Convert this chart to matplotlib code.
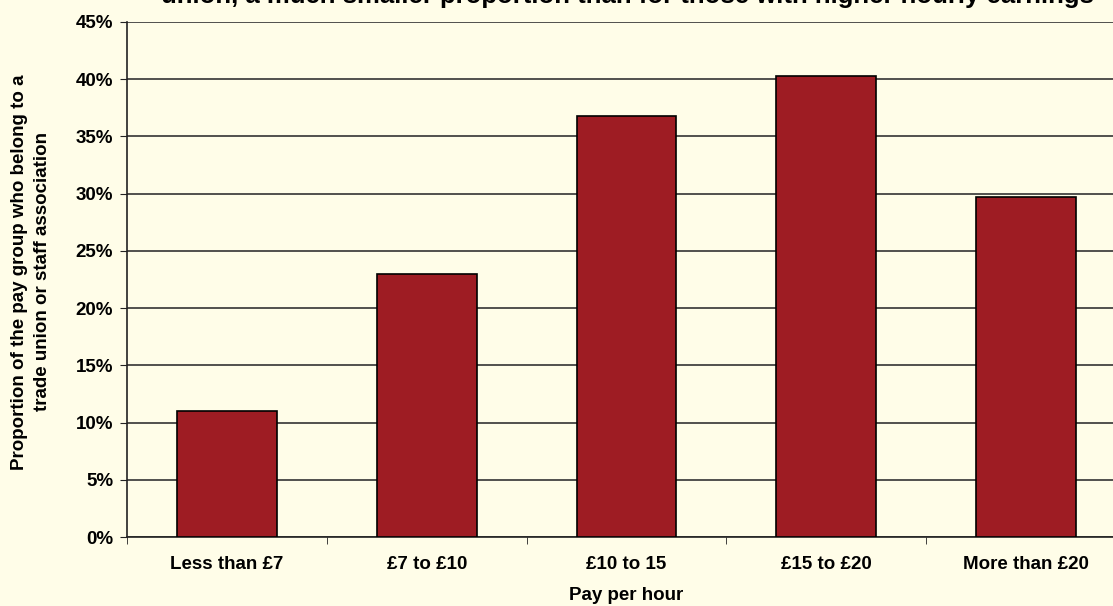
import matplotlib
matplotlib.use("Agg")
import matplotlib.pyplot as plt
from matplotlib.ticker import FixedLocator, PercentFormatter

categories = ["Less than £7", "£7 to £10", "£10 to 15", "£15 to £20", "More than £20"]
values = [11.0, 23.0, 36.8, 40.3, 29.7]
yticks = [0, 5, 10, 15, 20, 25, 30, 35, 40, 45]

bg = "#FFFDE8"
bar_color = "#9E1C23"

plt.rcParams["font.family"] = ["Liberation Sans", "DejaVu Sans"]
plt.rcParams["font.weight"] = "bold"

fs = 13.5

fig = plt.figure(figsize=(11.13, 6.06), dpi=100, facecolor=bg)
ax = fig.add_axes([127/1113, 69/606, 999/1113, 515/606], facecolor=bg)

x = list(range(len(categories)))
ax.bar(x, values, width=0.5, color=bar_color, edgecolor="black", linewidth=1.2, zorder=3)

ax.set_xlim(-0.5, len(categories) - 0.5)
ax.set_ylim(0, 45)
ax.set_yticks(yticks)
ax.yaxis.set_major_formatter(PercentFormatter(decimals=0))
ax.grid(axis="y", color="#333333", linewidth=1.2, zorder=0)

ax.set_xticks(x)
ax.set_xticklabels(categories, fontsize=fs, fontweight="bold")
ax.xaxis.set_minor_locator(FixedLocator([i - 0.5 for i in range(len(categories) + 1)]))
ax.tick_params(axis="x", which="major", length=0, pad=14)
ax.tick_params(axis="x", which="minor", length=5, direction="out", color="#222222")
ax.tick_params(axis="y", length=5, direction="out", labelsize=fs, color="#222222", pad=5)
for lbl in ax.get_yticklabels():
    lbl.set_fontweight("bold")

for s in ["top", "right"]:
    ax.spines[s].set_visible(False)
ax.spines["left"].set_color("#222222")
ax.spines["bottom"].set_color("#222222")
ax.spines["left"].set_linewidth(1.2)
ax.spines["bottom"].set_linewidth(1.2)

ax.set_xlabel("Pay per hour", fontsize=fs, fontweight="bold", labelpad=10)
ax.set_ylabel("Proportion of the pay group who belong to a\ntrade union or staff association",
              fontsize=fs, fontweight="bold", linespacing=1.45)
ax.yaxis.set_label_coords(-76/999, 0.515)

fig.text(627/1113, 1 - 2.5/606,
         "Those with low hourly pay are less likely to belong to a trade union or staff association\n"
         "union, a much smaller proportion than for those with higher hourly earnings",
         ha="center", va="baseline", fontsize=18.5, fontweight="bold", linespacing=1.2)

fig.savefig("out.png", dpi=100, facecolor=bg)
